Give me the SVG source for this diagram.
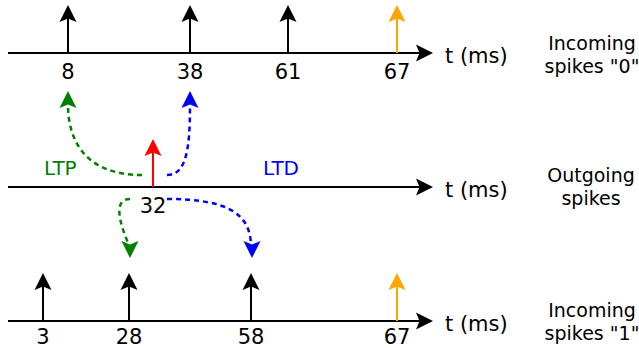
<svg xmlns="http://www.w3.org/2000/svg" xmlns:xlink="http://www.w3.org/1999/xlink" width="639" height="348" viewBox="0 0 639 348">
<style>
text{font-family:"DejaVu Sans","Liberation Sans",sans-serif;}
.ax{stroke:#000;stroke-width:2;fill:none;}
.num{font-size:21px;text-anchor:middle;fill:#000;}
.tms{font-size:21px;fill:#000;}
.lbl{font-size:19px;text-anchor:middle;fill:#000;}
.ltx{font-size:20px;}
.sp{stroke-width:2;fill:none;}
.dash{stroke-width:2.5;fill:none;stroke-dasharray:5,4;}
</style>
<defs>
<path id="ah" d="M0,0 L8.5,17 L0,13.5 L-8.5,17 Z"/>
</defs>

<g id="incoming0">
<line class="ax" x1="8" y1="53" x2="420" y2="53"/>
<use xlink:href="#ah" transform="translate(433,53) rotate(90)" fill="#000"/>
<line class="sp" stroke="#000" x1="68" y1="53" x2="68" y2="18"/>
<use xlink:href="#ah" transform="translate(68,5)" fill="#000"/>
<line class="sp" stroke="#000" x1="190" y1="53" x2="190" y2="18"/>
<use xlink:href="#ah" transform="translate(190,5)" fill="#000"/>
<line class="sp" stroke="#000" x1="288" y1="53" x2="288" y2="18"/>
<use xlink:href="#ah" transform="translate(288,5)" fill="#000"/>
<line class="sp" stroke="#ffa500" x1="397" y1="53" x2="397" y2="18"/>
<use xlink:href="#ah" transform="translate(397,5)" fill="#ffa500"/>
<text class="num" x="68" y="79">8</text>
<text class="num" x="190" y="79">38</text>
<text class="num" x="288" y="79">61</text>
<text class="num" x="397" y="79">67</text>
<text class="tms" x="445" y="63">t (ms)</text>
<text class="lbl" x="592" y="50">Incoming</text>
<text class="lbl" x="592" y="73">spikes "0"</text>
</g>

<g id="outgoing">
<line class="ax" x1="8" y1="187" x2="420" y2="187"/>
<use xlink:href="#ah" transform="translate(433,187) rotate(90)" fill="#000"/>
<line class="sp" stroke="#ff0000" x1="153" y1="187" x2="153" y2="152"/>
<use xlink:href="#ah" transform="translate(153,139)" fill="#ff0000"/>
<text class="num" x="153" y="213">32</text>
<text class="tms" x="445" y="197">t (ms)</text>
<text class="lbl" x="591" y="182">Outgoing</text>
<text class="lbl" x="591" y="205">spikes</text>
<text class="ltx" x="44" y="175" fill="#008000">LTP</text>
<text class="ltx" x="263" y="175" fill="#0000ff">LTD</text>
</g>

<g id="incoming1">
<line class="ax" x1="8" y1="321" x2="420" y2="321"/>
<use xlink:href="#ah" transform="translate(433,321) rotate(90)" fill="#000"/>
<line class="sp" stroke="#000" x1="43" y1="321" x2="43" y2="286"/>
<use xlink:href="#ah" transform="translate(43,273)" fill="#000"/>
<line class="sp" stroke="#000" x1="129" y1="321" x2="129" y2="286"/>
<use xlink:href="#ah" transform="translate(129,273)" fill="#000"/>
<line class="sp" stroke="#000" x1="251" y1="321" x2="251" y2="286"/>
<use xlink:href="#ah" transform="translate(251,273)" fill="#000"/>
<line class="sp" stroke="#ffa500" x1="397" y1="321" x2="397" y2="286"/>
<use xlink:href="#ah" transform="translate(397,273)" fill="#ffa500"/>
<text class="num" x="43" y="344">3</text>
<text class="num" x="129" y="344">28</text>
<text class="num" x="251" y="344">58</text>
<text class="num" x="397" y="344">67</text>
<text class="tms" x="445" y="331">t (ms)</text>
<text class="lbl" x="592" y="317">Incoming</text>
<text class="lbl" x="592" y="340">spikes "1"</text>
</g>

<g id="connectors">
<path class="dash" stroke="#008000" d="M142,175 C85,175 68,140 68,105"/>
<use xlink:href="#ah" transform="translate(68,91)" fill="#008000"/>
<path class="dash" stroke="#0000ff" d="M167,175 C186,175 190,150 190,105"/>
<use xlink:href="#ah" transform="translate(190,91)" fill="#0000ff"/>
<path class="dash" stroke="#008000" d="M130,199 C114,199 118,220 129,245"/>
<use xlink:href="#ah" transform="translate(130,258) rotate(180)" fill="#008000"/>
<path class="dash" stroke="#0000ff" d="M167,199 C230,199 250,215 251,245"/>
<use xlink:href="#ah" transform="translate(252,258) rotate(180)" fill="#0000ff"/>
</g>
</svg>
